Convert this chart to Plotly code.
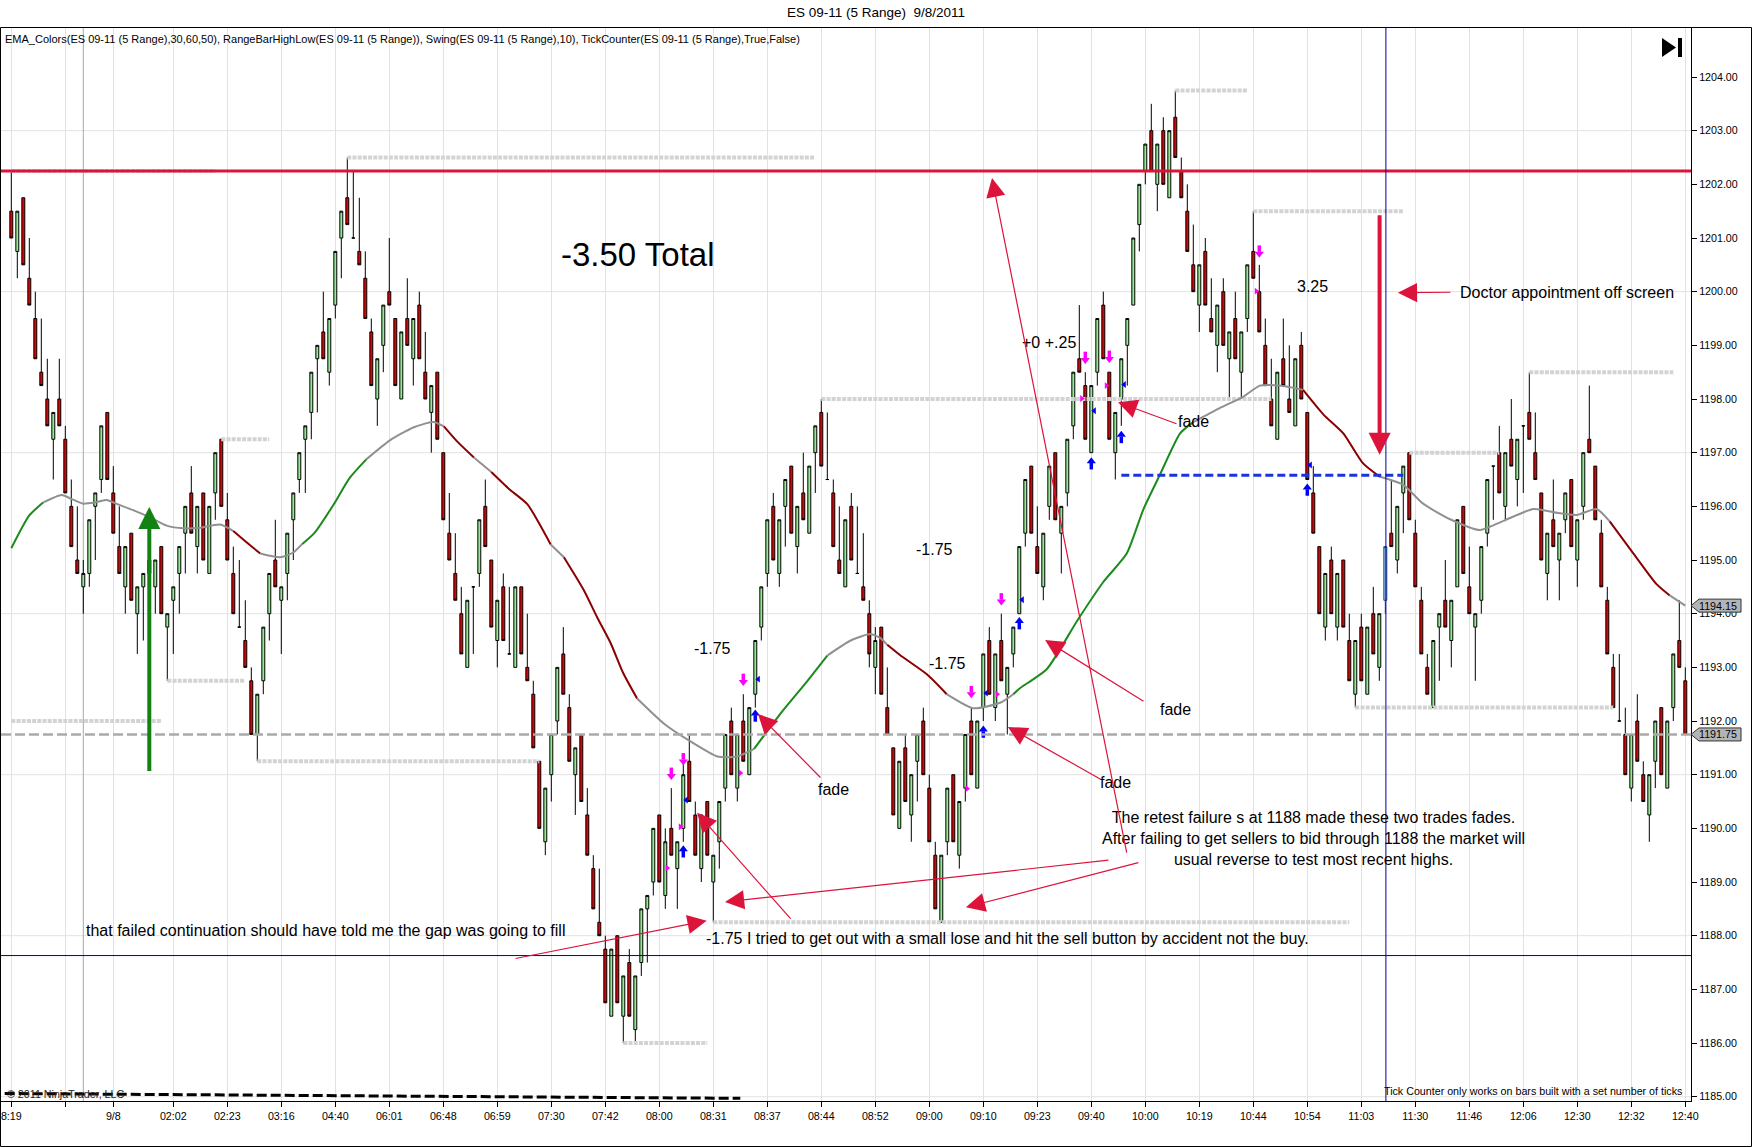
import plotly.graph_objects as go

W, H = 1752, 1147
ML, MR, MT, MB = 1, 61, 28, 46
PW, PH = W - ML - MR, H - MT - MB
FONT = "Liberation Sans, Arial, sans-serif"

# ---------------- data ----------------
opens = [
    1201.5, 1200.75, 1201.75, 1200.25, 1199.5, 1198.5, 1198.0, 1197.25, 1198.0, 1197.25,
    1196.0, 1195.0, 1194.5, 1194.75, 1196.0, 1196.5, 1197.75, 1196.25, 1195.25, 1194.5,
    1195.5, 1194.0, 1194.5, 1194.75, 1194.5, 1195.25, 1193.75, 1194.25, 1194.75, 1195.5,
    1196.25, 1195.25, 1196.25, 1194.75, 1196.25, 1197.25, 1195.75, 1194.75, 1193.75, 1193.5,
    1192.75, 1191.75, 1192.75, 1194.0, 1195.0, 1194.25, 1194.75, 1195.75, 1196.5, 1197.25,
    1197.75, 1198.75, 1199.25, 1198.5, 1199.75, 1201.0, 1201.75, 1201.0, 1200.75, 1200.25,
    1199.25, 1198.0, 1199.0, 1200.0, 1199.5, 1198.0, 1199.5, 1198.75, 1199.75, 1198.5,
    1197.75, 1198.5, 1197.0, 1195.5, 1194.75, 1194.0, 1193.0, 1194.5, 1194.75, 1196.0,
    1195.0, 1193.5, 1194.5, 1193.25, 1193.0, 1194.5, 1193.0, 1192.5, 1191.25, 1189.75,
    1191.0, 1192.0, 1193.25, 1192.25, 1191.0, 1191.75, 1190.25, 1189.25, 1188.25, 1187.75,
    1186.5, 1188.0, 1186.5, 1187.5, 1186.25, 1187.5, 1188.5, 1189.0, 1190.25, 1188.75,
    1190.0, 1189.25, 1190.0, 1191.25, 1190.25, 1189.25, 1190.5, 1189.0, 1189.75, 1190.75,
    1192.0, 1190.75, 1192.0, 1191.0, 1192.5, 1193.75, 1194.75, 1196.0, 1194.75, 1196.0,
    1196.75, 1195.25, 1196.25, 1195.5, 1197.0, 1197.75, 1196.5, 1196.25, 1195.0, 1194.5,
    1196.0, 1194.75, 1194.5, 1194.0, 1193.0, 1193.75, 1192.25, 1191.5, 1190.0, 1191.5,
    1190.25, 1191.25, 1192.0, 1190.75, 1189.5, 1188.25, 1189.75, 1191.0, 1189.5, 1190.75,
    1192.0, 1190.75, 1192.25, 1193.5, 1192.25, 1193.5, 1192.5, 1193.25, 1194.0, 1195.5,
    1196.75, 1195.25, 1194.5, 1196.0, 1197.0, 1195.5, 1196.25, 1197.5, 1198.75, 1198.25,
    1197.0, 1198.5, 1199.75, 1198.5, 1197.0, 1198.0, 1199.0, 1199.75, 1201.25, 1202.25,
    1203.0, 1202.0, 1203.0, 1201.75, 1203.25, 1202.25, 1201.5, 1200.5, 1199.75, 1200.75,
    1199.5, 1199.0, 1200.0, 1198.75, 1199.5, 1198.5, 1199.5, 1200.75, 1200.0, 1199.0,
    1198.0, 1197.25, 1198.75, 1198.0, 1197.5, 1199.0, 1197.75, 1196.25, 1195.25, 1193.75,
    1195.0, 1193.75, 1195.0, 1193.5, 1192.5, 1193.75, 1192.5, 1194.0, 1193.0, 1194.25,
    1195.5, 1195.0, 1196.25, 1197.0, 1195.5, 1194.25, 1193.0, 1192.25, 1193.75, 1194.25,
    1193.5, 1194.5, 1196.0, 1194.5, 1193.75, 1194.25, 1195.5, 1196.75, 1197.0, 1196.0,
    1197.25, 1196.5, 1197.5, 1197.75, 1197.0, 1196.25, 1194.75, 1195.75, 1195.0, 1195.75,
    1196.5, 1195.0, 1196.0, 1197.25, 1196.75, 1195.5, 1194.25, 1193.0, 1192.0, 1191.75,
    1190.75, 1192.0, 1191.0, 1190.25, 1191.25, 1192.25, 1190.75, 1192.25, 1193.5, 1192.75,
]
highs = [
    1202.25, 1201.5, 1201.75, 1201.0, 1200.0, 1199.5, 1198.75, 1197.75, 1198.75, 1197.5,
    1196.5, 1196.0, 1195.0, 1195.75, 1196.25, 1197.5, 1197.75, 1196.75, 1196.0, 1195.25,
    1195.5, 1194.5, 1194.75, 1195.25, 1195.0, 1195.25, 1194.0, 1194.5, 1195.25, 1196.0,
    1196.75, 1196.0, 1196.25, 1196.0, 1197.0, 1197.25, 1196.25, 1195.25, 1195.0, 1194.25,
    1193.0, 1192.5, 1193.75, 1194.75, 1195.75, 1194.5, 1195.5, 1196.25, 1197.0, 1197.5,
    1198.5, 1199.0, 1200.0, 1199.5, 1200.75, 1201.5, 1202.5, 1202.25, 1201.75, 1200.75,
    1199.5, 1198.75, 1199.75, 1201.0, 1199.5, 1199.25, 1200.25, 1199.5, 1200.0, 1199.25,
    1198.25, 1198.5, 1197.0, 1196.25, 1195.5, 1194.5, 1194.25, 1194.5, 1195.75, 1196.5,
    1195.0, 1194.25, 1194.75, 1194.5, 1194.5, 1194.5, 1194.0, 1192.75, 1191.25, 1190.75,
    1191.75, 1193.0, 1193.75, 1192.5, 1191.5, 1191.75, 1190.75, 1189.5, 1189.25, 1188.0,
    1187.75, 1188.0, 1187.25, 1187.75, 1187.25, 1188.5, 1188.75, 1190.0, 1190.25, 1190.0,
    1190.75, 1189.75, 1191.25, 1191.75, 1190.5, 1190.25, 1190.5, 1189.5, 1190.5, 1191.75,
    1192.25, 1191.75, 1192.5, 1192.25, 1193.5, 1194.5, 1195.75, 1196.25, 1195.75, 1196.5,
    1196.75, 1196.0, 1197.0, 1196.75, 1197.5, 1198.0, 1197.75, 1196.5, 1196.0, 1195.75,
    1196.25, 1196.0, 1195.5, 1194.25, 1193.75, 1193.75, 1193.0, 1191.5, 1191.25, 1191.75,
    1191.0, 1191.75, 1192.25, 1191.0, 1189.75, 1189.5, 1190.75, 1191.0, 1190.5, 1191.75,
    1192.25, 1192.0, 1193.25, 1193.75, 1193.25, 1194.0, 1193.0, 1193.75, 1195.25, 1196.5,
    1196.75, 1196.0, 1195.5, 1196.75, 1197.0, 1196.0, 1197.25, 1198.5, 1199.75, 1198.5,
    1198.25, 1199.5, 1200.0, 1198.5, 1197.75, 1198.75, 1199.5, 1201.0, 1202.0, 1202.75,
    1203.5, 1202.75, 1203.25, 1203.0, 1203.75, 1202.5, 1202.0, 1201.25, 1200.5, 1201.0,
    1200.25, 1199.75, 1200.25, 1199.25, 1200.0, 1199.25, 1200.5, 1201.5, 1200.5, 1199.5,
    1198.75, 1198.5, 1199.5, 1199.0, 1198.75, 1199.25, 1197.75, 1196.75, 1195.25, 1194.75,
    1195.25, 1194.75, 1195.0, 1194.0, 1193.5, 1194.0, 1193.75, 1194.5, 1194.0, 1195.25,
    1196.5, 1196.0, 1196.75, 1197.0, 1195.75, 1194.5, 1193.25, 1193.5, 1194.0, 1195.0,
    1194.25, 1195.75, 1196.0, 1195.25, 1194.0, 1195.25, 1196.5, 1196.75, 1197.5, 1197.0,
    1198.0, 1197.25, 1197.5, 1198.5, 1197.75, 1196.25, 1195.5, 1196.5, 1195.5, 1196.25,
    1196.5, 1195.75, 1197.0, 1198.25, 1196.75, 1195.75, 1194.5, 1193.25, 1193.25, 1192.25,
    1191.75, 1192.5, 1191.25, 1191.0, 1192.0, 1192.25, 1192.0, 1193.25, 1194.25, 1193.0,
]
lows = [
    1201.0, 1200.25, 1200.5, 1199.75, 1198.75, 1198.25, 1197.5, 1196.5, 1197.5, 1196.25,
    1195.25, 1194.75, 1194.0, 1194.5, 1195.0, 1196.25, 1196.5, 1195.5, 1194.75, 1194.0,
    1194.25, 1193.25, 1193.5, 1194.5, 1194.0, 1194.0, 1192.75, 1193.25, 1194.0, 1194.75,
    1195.5, 1194.75, 1195.0, 1194.75, 1195.75, 1196.0, 1195.0, 1194.0, 1193.75, 1193.0,
    1191.75, 1191.25, 1192.5, 1193.5, 1194.5, 1193.25, 1194.25, 1195.0, 1196.25, 1196.25,
    1197.25, 1197.75, 1198.75, 1198.25, 1199.5, 1200.25, 1201.25, 1201.0, 1200.5, 1199.5,
    1198.25, 1197.5, 1198.5, 1199.75, 1198.25, 1198.0, 1199.0, 1198.25, 1198.75, 1198.0,
    1197.0, 1197.25, 1195.75, 1195.0, 1194.25, 1193.25, 1193.0, 1193.25, 1194.5, 1195.25,
    1193.75, 1193.0, 1193.5, 1193.25, 1193.0, 1193.25, 1192.75, 1191.5, 1190.0, 1189.5,
    1190.5, 1191.75, 1192.5, 1191.25, 1190.25, 1190.5, 1189.5, 1188.5, 1188.0, 1186.75,
    1186.5, 1186.75, 1186.0, 1186.5, 1186.0, 1187.25, 1187.5, 1188.75, 1189.0, 1188.5,
    1189.5, 1188.5, 1189.75, 1190.5, 1189.5, 1189.0, 1189.5, 1188.25, 1189.25, 1190.5,
    1191.0, 1190.5, 1191.25, 1191.0, 1192.25, 1193.5, 1194.5, 1195.0, 1194.5, 1195.25,
    1195.5, 1194.75, 1195.75, 1195.5, 1196.25, 1196.75, 1196.5, 1195.25, 1194.75, 1194.5,
    1195.0, 1194.75, 1194.25, 1193.0, 1192.5, 1192.5, 1191.75, 1190.25, 1190.0, 1190.5,
    1189.75, 1190.5, 1191.0, 1189.75, 1188.5, 1188.25, 1189.5, 1189.75, 1189.25, 1190.5,
    1191.0, 1190.75, 1192.0, 1192.5, 1192.0, 1192.75, 1191.75, 1193.0, 1194.0, 1195.25,
    1195.5, 1194.75, 1194.25, 1195.75, 1195.75, 1194.75, 1196.0, 1197.25, 1198.5, 1197.25,
    1197.0, 1198.25, 1198.75, 1197.25, 1196.5, 1197.5, 1198.25, 1199.75, 1200.75, 1202.0,
    1202.25, 1201.5, 1202.0, 1201.75, 1202.5, 1201.75, 1200.75, 1200.0, 1199.25, 1199.75,
    1199.25, 1198.5, 1199.0, 1198.0, 1198.75, 1198.0, 1199.25, 1200.25, 1199.25, 1198.25,
    1197.5, 1197.25, 1198.25, 1197.75, 1197.5, 1198.0, 1196.5, 1195.5, 1194.0, 1193.5,
    1194.0, 1193.5, 1193.75, 1192.75, 1192.25, 1192.75, 1192.5, 1193.25, 1192.75, 1194.0,
    1195.25, 1194.75, 1195.5, 1195.75, 1194.5, 1193.25, 1192.5, 1192.25, 1192.75, 1193.75,
    1193.0, 1194.5, 1194.75, 1194.0, 1192.75, 1194.0, 1195.25, 1195.75, 1196.25, 1195.75,
    1196.75, 1196.0, 1196.25, 1197.25, 1196.5, 1195.0, 1194.25, 1195.25, 1194.25, 1195.5,
    1195.25, 1194.5, 1195.75, 1197.0, 1195.75, 1194.5, 1193.25, 1192.25, 1192.0, 1191.0,
    1190.5, 1191.25, 1190.5, 1189.75, 1190.75, 1191.0, 1190.75, 1192.0, 1193.0, 1191.75,
]
closes = [
    1201.0, 1201.5, 1200.5, 1199.75, 1198.75, 1198.25, 1197.5, 1197.75, 1197.5, 1196.25,
    1195.25, 1194.75, 1194.75, 1195.75, 1196.25, 1197.5, 1196.5, 1195.5, 1194.75, 1195.25,
    1194.25, 1194.5, 1194.75, 1195.0, 1195.0, 1194.0, 1194.0, 1194.5, 1195.25, 1196.0,
    1195.5, 1196.0, 1195.0, 1196.0, 1197.0, 1196.0, 1195.0, 1194.0, 1193.75, 1193.0,
    1191.75, 1192.5, 1193.75, 1194.75, 1194.5, 1194.5, 1195.5, 1196.25, 1197.0, 1197.5,
    1198.5, 1199.0, 1198.75, 1199.5, 1200.75, 1201.5, 1201.25, 1201.0, 1200.5, 1199.5,
    1198.25, 1198.75, 1199.75, 1199.75, 1198.25, 1199.25, 1199.0, 1199.5, 1198.75, 1198.0,
    1198.25, 1197.25, 1195.75, 1195.0, 1194.25, 1193.25, 1194.25, 1194.5, 1195.75, 1195.25,
    1193.75, 1194.25, 1193.5, 1193.25, 1194.5, 1193.25, 1192.75, 1191.5, 1190.0, 1190.75,
    1191.75, 1193.0, 1192.5, 1191.25, 1191.5, 1190.5, 1189.5, 1188.5, 1188.0, 1186.75,
    1187.75, 1186.75, 1187.25, 1186.5, 1187.25, 1188.5, 1188.75, 1190.0, 1189.0, 1189.75,
    1189.5, 1189.75, 1191.0, 1190.5, 1189.5, 1190.25, 1189.5, 1189.5, 1190.5, 1191.75,
    1191.0, 1191.75, 1191.25, 1192.25, 1193.5, 1194.5, 1195.75, 1195.0, 1195.75, 1196.5,
    1195.5, 1196.0, 1195.75, 1196.75, 1197.5, 1196.75, 1196.5, 1195.25, 1194.75, 1195.75,
    1195.0, 1194.75, 1194.25, 1193.25, 1193.5, 1192.5, 1191.75, 1190.25, 1191.25, 1190.5,
    1191.0, 1191.75, 1191.0, 1189.75, 1188.5, 1189.5, 1190.75, 1189.75, 1190.5, 1191.75,
    1191.0, 1192.0, 1193.25, 1192.5, 1193.25, 1192.75, 1193.0, 1193.75, 1195.25, 1196.5,
    1195.5, 1194.75, 1195.5, 1196.75, 1195.75, 1196.0, 1197.25, 1198.5, 1198.5, 1197.25,
    1198.25, 1199.5, 1198.75, 1197.25, 1197.75, 1198.75, 1199.5, 1201.0, 1202.0, 1202.75,
    1202.25, 1202.75, 1202.0, 1203.0, 1202.5, 1201.75, 1200.75, 1200.0, 1200.5, 1199.75,
    1199.25, 1199.75, 1199.0, 1199.25, 1198.75, 1199.25, 1200.5, 1200.25, 1199.25, 1198.25,
    1197.5, 1198.5, 1198.25, 1197.75, 1198.75, 1198.0, 1196.5, 1195.5, 1194.0, 1194.75,
    1194.0, 1194.75, 1193.75, 1192.75, 1193.5, 1192.75, 1193.75, 1193.25, 1194.0, 1195.25,
    1195.25, 1196.0, 1196.75, 1195.75, 1194.5, 1193.25, 1192.5, 1193.5, 1194.0, 1193.75,
    1194.25, 1195.75, 1194.75, 1194.0, 1194.0, 1195.25, 1196.5, 1196.75, 1196.25, 1197.0,
    1196.75, 1197.25, 1197.5, 1197.25, 1196.5, 1195.0, 1195.5, 1195.25, 1195.5, 1196.25,
    1195.25, 1195.75, 1197.0, 1197.0, 1195.75, 1194.5, 1193.25, 1192.25, 1192.0, 1191.0,
    1191.75, 1191.25, 1190.5, 1191.0, 1192.0, 1191.0, 1192.0, 1193.25, 1193.0, 1191.75,
]
bar_index = list(range(len(opens)))
highlight_bar = 229

tick_index = [0, 9, 17] + list(range(27, 280, 9))
tick_text = ["8:19", "", "9/8", "02:02", "02:23", "03:16", "04:40", "06:01", "06:48",
             "06:59", "07:30", "07:42", "08:00", "08:31", "08:37", "08:44", "08:52",
             "09:00", "09:10", "09:23", "09:40", "10:00", "10:19", "10:44", "10:54",
             "11:03", "11:30", "11:46", "12:06", "12:30", "12:32", "12:40"]
session_break = 12

# EMA and its colour state: G rising, R falling, Y flat
ema_index = [0, 3, 5.3, 8.4, 10, 12, 14.2, 15.9, 17.5, 20.3, 23, 25.9, 28.7, 31.4, 34.8,
             37, 39.2, 41.5, 44.8, 47, 48.5, 50.5, 53.7, 56.4, 59.2, 63.1, 67, 70.3,
             72.1, 74.3, 77.1, 80, 83, 86, 89.9, 92.1, 95.4, 97.7, 99.9, 102, 104.3,
             108.8, 113.2, 117.7, 121, 123.8, 128.2, 132.7, 136, 139.9, 143.2, 144.8,
             146, 148.1, 152.6, 155.9, 160.3, 164.8, 167, 168.1, 172.6, 177.6, 182,
             185.9, 188.7, 191.4, 194.8, 197, 201.4, 205.3, 208.1, 211.4, 215.3, 218.7,
             222, 225.3, 228.1, 232, 235.3, 239.8, 244.8, 248.7, 253.7, 257.6, 260.9,
             264.2, 266.4, 270.3, 274.2, 276.4, 279]
ema_value = [1195.22, 1195.83, 1196.07, 1196.21, 1196.14, 1196.05, 1196.08, 1196.12,
             1196.05, 1195.93, 1195.8, 1195.64, 1195.59, 1195.6, 1195.66, 1195.54,
             1195.33, 1195.12, 1195.05, 1195.14, 1195.3, 1195.5, 1196.03, 1196.53,
             1196.88, 1197.23, 1197.47, 1197.57, 1197.49, 1197.21, 1196.91, 1196.64,
             1196.32, 1196.04, 1195.29, 1195.05, 1194.44, 1193.92, 1193.45, 1192.89,
             1192.42, 1191.95, 1191.62, 1191.34, 1191.34, 1191.48, 1192.14, 1192.75,
             1193.22, 1193.5, 1193.62, 1193.55, 1193.42, 1193.23, 1192.87, 1192.5,
             1192.24, 1192.34, 1192.5, 1192.61, 1192.97, 1193.86, 1194.59, 1195.12,
             1195.95, 1196.58, 1197.36, 1197.57, 1197.83, 1198.04, 1198.25, 1198.25,
             1198.17, 1197.71, 1197.36, 1196.8, 1196.55, 1196.4, 1196.05, 1195.76,
             1195.56, 1195.73, 1195.95, 1195.88, 1195.84, 1195.95, 1195.72, 1195.13,
             1194.55, 1194.34, 1194.15]
ema_color = ["G", "G", "Y", "Y", "Y", "Y", "Y", "Y", "Y", "Y", "Y", "Y", "Y", "Y", "Y",
             "R", "R", "Y", "Y", "Y", "G", "G", "G", "G", "Y", "Y", "Y", "Y",
             "R", "R", "Y", "R", "R", "R", "Y", "R", "R", "R", "R", "R", "Y",
             "Y", "Y", "Y", "Y", "G", "G", "G", "Y", "Y", "Y", "Y",
             "R", "R", "R", "Y", "Y", "Y", "G", "G", "G", "G", "G",
             "G", "G", "G", "G", "Y", "Y", "Y", "Y", "Y", "R", "R",
             "R", "R", "Y", "Y", "Y", "Y", "Y", "Y", "Y", "Y", "Y",
             "Y", "R", "R", "R", "Y", "Y"]

# RangeBarHighLow dotted levels
rb_start = [0, 56, 35, 26, 0, 41, 135, 194, 207, 253, 233, 224, 117, 102]
rb_end = [34, 134, 43, 39, 25, 88, 210, 206, 232, 277, 248, 267, 223, 116]
rb_level = [1202.25, 1202.5, 1197.25, 1192.75, 1192.0, 1191.25, 1198.0, 1203.75,
            1201.5, 1198.5, 1197.0, 1192.25, 1188.25, 1186.0]

# TickCounter / trade markers
mdown_x = [110, 112, 122, 160, 165, 179, 183, 208]
mdown_y = [1191.03, 1191.3, 1192.78, 1192.55, 1194.28, 1198.78, 1198.8, 1200.76]
mright_x = [109.3, 111.5, 121.5, 159.3, 164.3, 178.4, 182.5, 207.5]
mright_y = [1189.26, 1190.03, 1191.03, 1190.74, 1192.5, 1198.01, 1198.25, 1200.01]
bup_x = [112, 124, 162, 168, 180, 185, 216]
bup_y = [1189.56, 1192.09, 1191.79, 1193.81, 1196.79, 1197.28, 1196.3]
bleft_x = [112.5, 124.5, 162.5, 168.5, 180.5, 185.5, 216.5]
bleft_y = [1190.53, 1192.78, 1192.52, 1194.26, 1197.78, 1198.27, 1196.77]

resistance_level = 1202.25
last_price = closes[-1]
ema_last = ema_value[-1]
cursor_bar = 229.1
cursor_price = 1187.63
support_x = [185, 232]
support_y = [1196.58, 1196.58]
bottom_dash_x = [-1.1, 121.5]
bottom_dash_y = [1185.06, 1184.97]

X_RANGE = [-1.717, 279.95]
Y_RANGE = [1184.92, 1204.913]
PX_PRICE = (Y_RANGE[1] - Y_RANGE[0]) / PH   # price units per pixel


def px2x(px):
    return (px - ML) / PW


def py2y(py):
    return (H - MB - py) / PH


fig = go.Figure()

# range bar high/low dotted lines
for s, e, lv in zip(rb_start, rb_end, rb_level):
    fig.add_trace(go.Scatter(x=[s, e], y=[lv, lv], mode="lines",
                             line=dict(color="#D3D3D3", width=4, dash="4px,1.2px"),
                             hoverinfo="skip", showlegend=False))

main_idx = [i for i in bar_index if i != highlight_bar]
fig.add_trace(go.Candlestick(
    x=main_idx,
    open=[opens[i] for i in main_idx], high=[highs[i] for i in main_idx],
    low=[lows[i] for i in main_idx], close=[closes[i] for i in main_idx],
    increasing=dict(fillcolor="#90EE90", line=dict(color="#000000", width=1)),
    decreasing=dict(fillcolor="#E00000", line=dict(color="#000000", width=1)),
    whiskerwidth=0, hoverinfo="skip", showlegend=False))
fig.add_trace(go.Candlestick(
    x=[highlight_bar], open=[opens[highlight_bar]], high=[highs[highlight_bar]],
    low=[lows[highlight_bar]], close=[closes[highlight_bar]],
    increasing=dict(fillcolor="#8EC3EA", line=dict(color="#2A4A7A", width=1)),
    decreasing=dict(fillcolor="#8EC3EA", line=dict(color="#2A4A7A", width=1)),
    whiskerwidth=0, hoverinfo="skip", showlegend=False))

# EMA coloured segments
cmap = {"G": "#1C8A1C", "R": "#8B0000", "Y": "#909090"}
sx, sy, cur = [ema_index[0]], [ema_value[0]], ema_color[0]
for k in range(1, len(ema_index)):
    sx.append(ema_index[k])
    sy.append(ema_value[k])
    if ema_color[k] != cur or k == len(ema_index) - 1:
        fig.add_trace(go.Scatter(x=sx, y=sy, mode="lines",
                                 line=dict(color=cmap[cur], width=2, shape="spline", smoothing=0.6),
                                 hoverinfo="skip", showlegend=False))
        sx, sy, cur = [ema_index[k]], [ema_value[k]], ema_color[k]


# thick arrow markers = stem (line) + head (triangle)
def block_arrows(xs, ys, color, down):
    sgn = 1 if down else -1
    stem_x, stem_y = [], []
    for x, y in zip(xs, ys):
        stem_x += [x, x, None]
        stem_y += [y + sgn * 5.5 * PX_PRICE, y - sgn * 1.0 * PX_PRICE, None]
    fig.add_trace(go.Scatter(x=stem_x, y=stem_y, mode="lines",
                             line=dict(color=color, width=3.5),
                             hoverinfo="skip", showlegend=False))
    fig.add_trace(go.Scatter(x=xs, y=[y - sgn * 2.8 * PX_PRICE for y in ys], mode="markers",
                             marker=dict(symbol="triangle-down" if down else "triangle-up",
                                         size=8, color=color, line=dict(width=0)),
                             hoverinfo="skip", showlegend=False))


block_arrows(mdown_x, mdown_y, "#FF00FF", True)
block_arrows(bup_x, bup_y, "#0000FF", False)
fig.add_trace(go.Scatter(x=mright_x, y=mright_y, mode="markers",
                         marker=dict(symbol="triangle-right", size=6, color="#FF00FF", line=dict(width=0)),
                         hoverinfo="skip", showlegend=False))
fig.add_trace(go.Scatter(x=bleft_x, y=bleft_y, mode="markers",
                         marker=dict(symbol="triangle-left", size=6, color="#0000FF", line=dict(width=0)),
                         hoverinfo="skip", showlegend=False))

# drawn lines
fig.add_trace(go.Scatter(x=support_x, y=support_y, mode="lines",
                         line=dict(color="#1A35E0", width=3, dash="8px,4px"),
                         hoverinfo="skip", showlegend=False))
fig.add_trace(go.Scatter(x=bottom_dash_x, y=bottom_dash_y, mode="lines",
                         line=dict(color="#000000", width=3, dash="10px,4px"),
                         hoverinfo="skip", showlegend=False))

shapes = []
for gp in range(1185, 1204, 3):
    shapes.append(dict(type="line", xref="paper", yref="y", x0=0, x1=1, y0=gp, y1=gp,
                       line=dict(color="#E2E2E2", width=1), layer="below"))
shapes.append(dict(type="line", xref="x", yref="paper", x0=session_break, x1=session_break,
                   y0=0, y1=1, line=dict(color="#A8A8A8", width=1), layer="below"))
shapes.append(dict(type="line", xref="paper", yref="y", x0=0, x1=1,
                   y0=last_price, y1=last_price,
                   line=dict(color="#AAAAAA", width=2.5, dash="10px,4px"), layer="above"))
shapes.append(dict(type="line", xref="paper", yref="y", x0=0, x1=1,
                   y0=resistance_level, y1=resistance_level,
                   line=dict(color="#DC143C", width=3), layer="above"))
shapes.append(dict(type="line", xref="x", yref="paper", x0=cursor_bar, x1=cursor_bar,
                   y0=0, y1=1, line=dict(color="#0000A0", width=1), layer="above"))
shapes.append(dict(type="line", xref="paper", yref="y", x0=0, x1=1,
                   y0=cursor_price, y1=cursor_price,
                   line=dict(color="#0000A0", width=1), layer="above"))
# outer frame
shapes.append(dict(type="rect", xref="paper", yref="paper", x0=px2x(0.5), x1=px2x(1751.5),
                   y0=py2y(1146.5), y1=py2y(27.5), line=dict(color="#000000", width=1),
                   fillcolor="rgba(0,0,0,0)", layer="above"))
# end-of-chart icon
shapes.append(dict(type="path", xref="paper", yref="paper",
                   path="M{0},{1} L{0},{2} L{3},{4} Z".format(px2x(1662), py2y(38), py2y(57),
                                                               px2x(1676), py2y(47.5)),
                   fillcolor="#000000", line=dict(width=0), layer="above"))
shapes.append(dict(type="rect", xref="paper", yref="paper", x0=px2x(1678), x1=px2x(1682),
                   y0=py2y(57), y1=py2y(38), fillcolor="#000000", line=dict(width=0), layer="above"))
# price markers on the axis
hh = 6.5 * PX_PRICE
for val in [ema_last, last_price]:
    shapes.append(dict(type="path", xref="paper", yref="y",
                       path="M{0},{1} L{2},{3} L{4},{3} L{4},{5} L{2},{5} Z".format(
                           px2x(1691), val, px2x(1699), val + hh, px2x(1741), val - hh),
                       fillcolor="#B4B4B4", line=dict(color="#333333", width=1), layer="above"))

ann = []


def txt(x, y, s, size=16, xanchor="center", xref="x", yref="y", color="#000000"):
    ann.append(dict(x=x, y=y, xref=xref, yref=yref, text=s, showarrow=False,
                    xanchor=xanchor, yanchor="middle",
                    font=dict(family=FONT, size=size, color=color)))


def arrow(hx, hy, tx, ty, width=1.2, size=3.2, color="#DC143C", head=2):
    ann.append(dict(x=hx, y=hy, ax=tx, ay=ty, xref="x", yref="y", axref="x", ayref="y",
                    text="", showarrow=True, arrowhead=head, arrowsize=size,
                    arrowwidth=width, arrowcolor=color, standoff=0))


txt(px2x(876), py2y(13), "ES 09-11 (5 Range)  9/8/2011", size=13.5, xref="paper", yref="paper")
txt(px2x(3), py2y(39),
    "EMA_Colors(ES 09-11 (5 Range),30,60,50), RangeBarHighLow(ES 09-11 (5 Range)), "
    "Swing(ES 09-11 (5 Range),10), TickCounter(ES 09-11 (5 Range),True,False)",
    size=11, xanchor="left", xref="paper", yref="paper")
txt(px2x(1684), py2y(1090.7), "Tick Counter only works on bars built with a set number of ticks",
    size=10.7, xanchor="right", xref="paper", yref="paper")
txt(px2x(5), py2y(1094), "© 2011 NinjaTrader, LLC", size=10.7, xanchor="left",
    xref="paper", yref="paper", color="#222222")
for val in [ema_last, last_price]:
    txt(px2x(1718), val, "{:.2f}".format(val), size=10.7, xref="paper", yref="y")

txt(91.3, 1200.70, "-3.50 Total", size=33, xanchor="left")
txt(216.8, 1200.1, "3.25")
txt(241.1, 1199.98, "Doctor appointment off screen", xanchor="left")
txt(172.95, 1199.06, "+0 +.25")
txt(196.95, 1197.59, "fade")
txt(153.9, 1195.2, "-1.75")
txt(155.95, 1193.08, "-1.75")
txt(193.95, 1192.22, "fade")
txt(183.95, 1190.86, "fade")
txt(116.9, 1193.36, "-1.75")
txt(136.95, 1190.72, "fade")
txt(12.1, 1188.09, "that failed continuation should have told me the gap was going to fill",
    xanchor="left")
txt(115.45, 1187.94,
    "-1.75 I tried to get out with a small lose and hit the sell button by accident not the buy.",
    xanchor="left")
ann.append(dict(x=216.95, y=1189.82, xref="x", yref="y", showarrow=False, align="center",
                xanchor="center", yanchor="middle",
                text="The retest failure s at 1188 made these two trades fades.<br>"
                     "After failing to get sellers to bid through 1188 the market will<br>"
                     "usual reverse to test most recent highs.",
                font=dict(family=FONT, size=16, color="#000000")))

arrow(115.9, 1188.28, 83.8, 1187.57)
arrow(118.95, 1188.63, 183.1, 1189.41)
arrow(159.1, 1188.53, 188.1, 1189.37)
arrow(163.45, 1202.12, 185.95, 1189.52)
arrow(124.45, 1192.13, 135.1, 1190.92)
arrow(172.3, 1193.51, 188.95, 1192.35)
arrow(166.1, 1191.89, 181.8, 1190.9)
arrow(184.45, 1197.94, 194.45, 1197.53)
arrow(114.3, 1190.29, 130.1, 1188.29)
arrow(231.1, 1199.98, 240.1, 1199.99)
arrow(228.05, 1196.96, 228.05, 1201.45, width=4, size=1.1, head=2)
arrow(23.0, 1195.99, 23.0, 1191.04, width=4, size=1.1, color="#128212", head=2)

fig.update_layout(
    width=W, height=H,
    margin=dict(l=ML, r=MR, t=MT, b=MB, autoexpand=False),
    paper_bgcolor="#FFFFFF", plot_bgcolor="#FFFFFF",
    font=dict(family=FONT, size=11, color="#000000"),
    showlegend=False, hovermode=False,
    shapes=shapes, annotations=ann,
    xaxis=dict(range=X_RANGE, tickmode="array", tickvals=tick_index, ticktext=tick_text,
               ticks="outside", ticklen=5, tickcolor="#000000", showline=True,
               linecolor="#000000", linewidth=1, showgrid=True, gridcolor="#E2E2E2",
               gridwidth=1, zeroline=False, rangeslider=dict(visible=False),
               tickfont=dict(family=FONT, size=10.7, color="#000000"), fixedrange=True),
    yaxis=dict(range=Y_RANGE, side="right", tick0=1185, dtick=1, tickformat=".2f",
               ticks="outside", ticklen=5, tickcolor="#000000", showline=True,
               linecolor="#000000", linewidth=1, showgrid=False, zeroline=False,
               tickfont=dict(family=FONT, size=10.7, color="#000000"), fixedrange=True),
)

fig.write_html("out.html", config={"displayModeBar": False},
               post_script="document.body.style.margin='0';document.body.style.padding='0';")
